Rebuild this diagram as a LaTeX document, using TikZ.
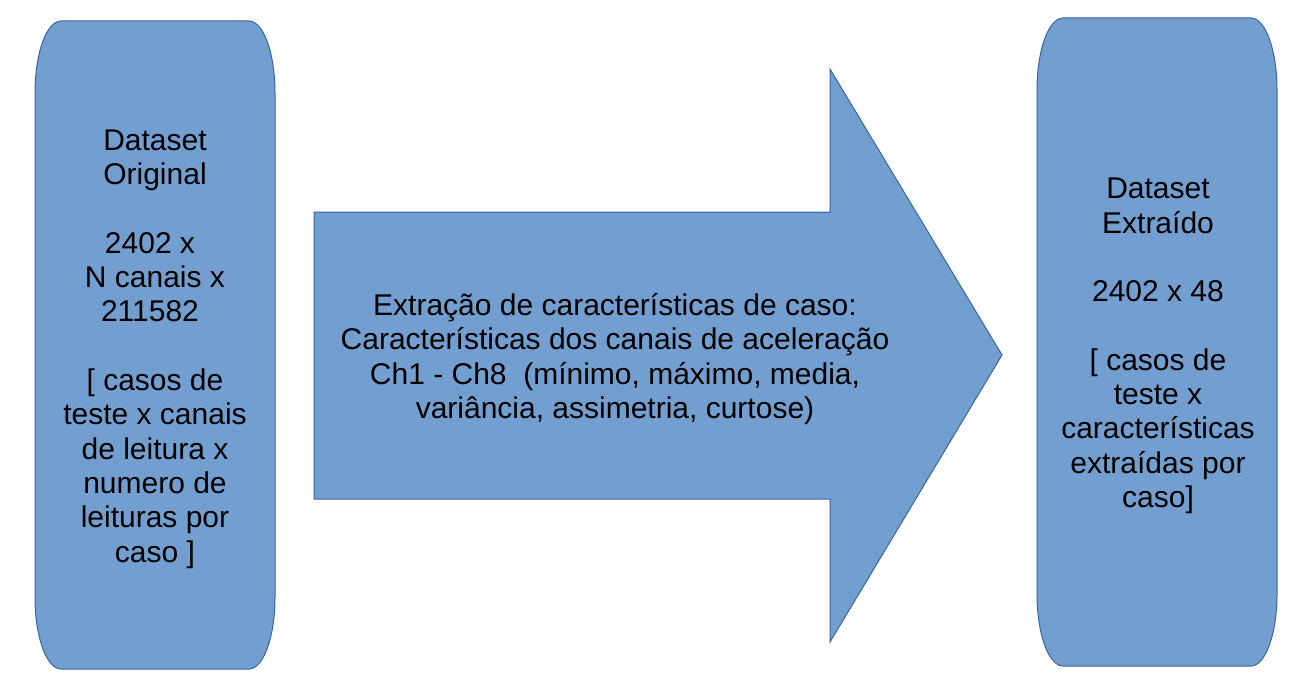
\documentclass[tikz,border=0pt]{standalone}
\usepackage{fontspec}
\setmainfont{Liberation Sans}
\definecolor{boxfill}{HTML}{729FCF}
\definecolor{boxline}{HTML}{3465A4}
\newcommand\pillbox[4]{%
  \path[pill] (#1,#2+72) .. controls (#1,#2+32.2) and (#1+11.6,#2) .. (#1+26,#2)
    -- (#3-26,#2) .. controls (#3-11.6,#2) and (#3,#2+32.2) .. (#3,#2+72)
    -- (#3,#4-72) .. controls (#3,#4-32.2) and (#3-11.6,#4) .. (#3-26,#4)
    -- (#1+26,#4) .. controls (#1+11.6,#4) and (#1,#4-32.2) .. (#1,#4-72) -- cycle;}
\begin{document}
\begin{tikzpicture}[x=1pt,y=-1pt,
  pill/.style={fill=boxfill,draw=boxline,line width=1pt},
  txt/.style={align=center,font=\fontsize{30}{34.3}\selectfont,inner sep=0pt}]
\useasboundingbox (0,0) rectangle (1306,693);
\pillbox{35}{21}{275}{669}
\pillbox{1037}{18}{1277}{666}
\path[pill] (314,212) -- (830,212) -- (830,69) -- (1002,355) -- (830,642) -- (830,499) -- (314,499) -- cycle;
\node[txt] (left) at (155,349) {Dataset\\Original\\[34.3pt]2402 x\kern10pt\\N canais x\\211582\kern10pt\\[34.3pt][ casos de\\teste x canais\\de leitura x\\numero de\\leituras por\\caso ]};
\node[txt] (right) at (1158,346) {Dataset\\Extraído\\[34.3pt]2402 x 48\\[34.3pt][ casos de\\teste x\\características\\extraídas por\\caso]};
\node[txt] (mid) at (615,359) {Extração de características de caso:\\Características dos canais de aceleração\\Ch1 - Ch8\ \ (mínimo, máximo, media,\\variância, assimetria, curtose)};
\end{tikzpicture}
\end{document}
